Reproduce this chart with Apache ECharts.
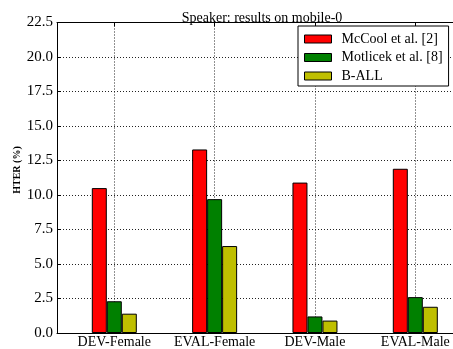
<!DOCTYPE html>
<html>
<head>
<meta charset="utf-8">
<script src="https://cdn.jsdelivr.net/npm/echarts@6/dist/echarts.min.js"></script>
<style>
  html, body { margin: 0; padding: 0; background: #fff; }
  #chart { width: 453px; height: 349px; }
</style>
</head>
<body>
<div id="chart"></div>
<script>
// HTER per evaluation subset, speaker modality on mobile-0
const categories = ['DEV-Female', 'EVAL-Female', 'DEV-Male', 'EVAL-Male'];
const seriesNames = ['McCool et al. [2]', 'Motlicek et al. [8]', 'B-ALL'];
const mccool = [10.5, 13.3, 10.9, 11.9];
const motlicek = [2.3, 9.7, 1.2, 2.6];
const ball = [1.4, 6.3, 0.9, 1.9];
const yTicks = [0, 2.5, 5, 7.5, 10, 12.5, 15, 17.5, 20, 22.5];

const FONT = '"Liberation Serif", "DejaVu Serif", serif';
const colors = ['#ff0000', '#008000', '#bfbf00'];
const values = [mccool, motlicek, ball];

const chart = echarts.init(document.getElementById('chart'), null, { renderer: 'canvas' });

const dotted = { color: '#222', width: 1, type: [1, 2] };
const yMin = yTicks[0], yMax = yTicks[yTicks.length - 1], yStep = yTicks[1] - yTicks[0];

chart.setOption({
  animation: false,
  backgroundColor: '#fff',
  title: {
    text: 'Speaker: results on mobile-0',
    left: 257, top: 6, textAlign: 'center',
    textStyle: { fontFamily: FONT, fontSize: 14, fontWeight: 'normal', color: '#000' }
  },
  legend: {
    data: seriesNames,
    orient: 'vertical',
    left: 298, top: 26,
    backgroundColor: '#fff',
    borderColor: '#000', borderWidth: 1, borderRadius: 0,
    padding: [6, 6, 3, 6],
    itemWidth: 27, itemHeight: 8, itemGap: 4.5,
    icon: 'rect',
    itemStyle: { borderColor: '#000', borderWidth: 1 },
    textStyle: { fontFamily: FONT, fontSize: 14, color: '#000', padding: [0, 0, 0, 5] },
    z: 10
  },
  grid: [
    // frame: spines, horizontal grid and y ticks
    { left: 57, right: -20, top: 22.5, bottom: 16 },
    // bar area spanning the first to the last category centre
    { left: 114.3, right: 37.7, top: 22.5, bottom: 16 }
  ],
  xAxis: [
    { gridIndex: 0, type: 'value', min: 0, max: 1, position: 'bottom',
      axisLine: { show: true, lineStyle: { color: '#000', width: 1 } },
      axisTick: { show: false }, axisLabel: { show: false }, splitLine: { show: false } },
    { gridIndex: 0, type: 'value', min: 0, max: 1, position: 'top',
      axisLine: { show: true, lineStyle: { color: '#000', width: 1 } },
      axisTick: { show: false }, axisLabel: { show: false }, splitLine: { show: false } },
    { gridIndex: 1, type: 'category', data: categories, boundaryGap: false, position: 'bottom',
      axisLine: { show: false },
      axisTick: { show: true, inside: true, length: 4, interval: 0, lineStyle: { color: '#000' } },
      axisLabel: { fontFamily: FONT, fontSize: 14, color: '#000', margin: 2, verticalAlign: 'top',
                   interval: 0, showMinLabel: true, showMaxLabel: true, hideOverlap: false },
      splitLine: { show: true, interval: 0, lineStyle: dotted } },
    { gridIndex: 1, type: 'category', data: categories, boundaryGap: false, position: 'top',
      axisLine: { show: false },
      axisTick: { show: true, inside: true, length: 4, interval: 0, lineStyle: { color: '#000' } },
      axisLabel: { show: false }, splitLine: { show: false } }
  ],
  yAxis: [
    { gridIndex: 0, type: 'value', min: yMin, max: yMax, interval: yStep,
      axisLine: { show: true, lineStyle: { color: '#000', width: 1 } },
      axisTick: { show: true, inside: true, length: 4, lineStyle: { color: '#000' } },
      axisLabel: { fontFamily: FONT, fontSize: 15, color: '#000', margin: 4,
                   formatter: v => v.toFixed(1) },
      splitLine: { show: true, lineStyle: dotted } },
    { gridIndex: 1, type: 'value', min: yMin, max: yMax, interval: yStep, show: false }
  ],
  graphic: [
    { type: 'text', x: 17, y: 170, rotation: Math.PI / 2,
      style: { text: 'HTER (%)', align: 'center', verticalAlign: 'middle',
               font: 'bold 10px ' + FONT, fill: '#000' } }
  ],
  series: seriesNames.map((name, i) => ({
    name: name,
    type: 'bar',
    xAxisIndex: 2, yAxisIndex: 1,
    data: values[i],
    barWidth: 15,
    barGap: '0%',
    clip: false,
    itemStyle: { color: colors[i], borderColor: '#000', borderWidth: 1 },
    z: 3
  }))
});
</script>
</body>
</html>
